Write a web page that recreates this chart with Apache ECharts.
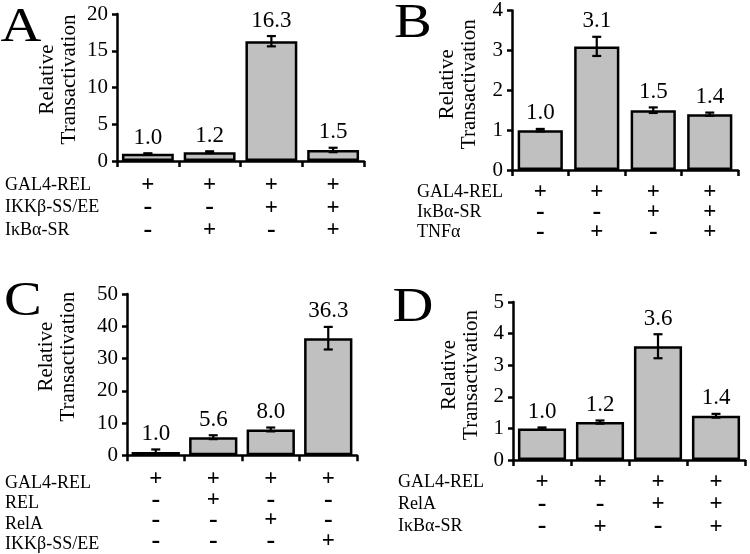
<!DOCTYPE html>
<html>
<head>
<meta charset="utf-8">
<script src="https://cdn.jsdelivr.net/npm/echarts@6/dist/echarts.min.js"></script>
<style>html,body{margin:0;padding:0;background:#fff}#c{width:750px;height:554px}</style>
</head>
<body>
<div id="c"></div>
<script>
// ---- Data ----
const panelLetters = ['A', 'B', 'C', 'D'];

const valuesA = [1.0, 1.2, 16.3, 1.5];
const errorsA = [0.05, 0.12, 0.7, 0.3];
const rowsA = ['GAL4-REL', 'IKKβ-SS/EE', 'IκBα-SR'];
const signsA = [['+', '+', '+', '+'], ['-', '-', '+', '+'], ['-', '+', '-', '+']];
const yTicksA = { max: 20, interval: 5 };

const valuesB = [1.0, 3.1, 1.5, 1.4];
const errorsB = [0.03, 0.24, 0.07, 0.04];
const rowsB = ['GAL4-REL', 'IκBα-SR', 'TNFα'];
const signsB = [['+', '+', '+', '+'], ['-', '-', '+', '+'], ['-', '+', '-', '+']];
const yTicksB = { max: 4, interval: 1 };

const valuesC = [1.0, 5.6, 8.0, 36.3];
const errorsC = [0.8, 0.6, 0.6, 3.5];
const rowsC = ['GAL4-REL', 'REL', 'RelA', 'IKKβ-SS/EE'];
const signsC = [['+', '+', '+', '+'], ['-', '+', '-', '-'], ['-', '-', '+', '-'], ['-', '-', '-', '+']];
const yTicksC = { max: 50, interval: 10 };

const valuesD = [1.0, 1.2, 3.6, 1.4];
const errorsD = [0.03, 0.05, 0.38, 0.06];
const rowsD = ['GAL4-REL', 'RelA', 'IκBα-SR'];
const signsD = [['+', '+', '+', '+'], ['-', '-', '+', '+'], ['-', '+', '-', '+']];
const yTicksD = { max: 5, interval: 1 };

const yAxisName = 'Relative\nTransactivation';

// ---- Layout (positions/styles only) ----
const FONT = '"Liberation Serif", "Times New Roman", serif';
const panels = [
  { letter: panelLetters[0], values: valuesA, errors: errorsA, rows: rowsA, signs: signsA, ticks: yTicksA,
    grid: { left: 117, top: 14, width: 247, height: 147 }, gap: '16%',
    nameGap: 37, nameShift: 8, labMargin: 13, lineH: 22.5, rowX: 5, letterPos: [21, 28] },
  { letter: panelLetters[1], values: valuesB, errors: errorsB, rows: rowsB, signs: signsB, ticks: yTicksB,
    grid: { left: 512, top: 9, width: 226, height: 161 }, gap: '20%',
    nameGap: 32, nameShift: 6, labMargin: 12.5, lineH: 20, rowX: 417, letterPos: [413, 24] },
  { letter: panelLetters[2], values: valuesC, errors: errorsC, rows: rowsC, signs: signsC, ticks: yTicksC,
    grid: { left: 127, top: 294, width: 230, height: 165 }, gap: '16%',
    nameGap: 48, nameShift: 18, labMargin: 14, lineH: 20.5, rowX: 5, letterPos: [23, 302] },
  { letter: panelLetters[3], values: valuesD, errors: errorsD, rows: rowsD, signs: signsD, ticks: yTicksD,
    grid: { left: 513, top: 302, width: 232, height: 158 }, gap: '17%',
    nameGap: 31, nameShift: 6, labMargin: 11, lineH: 22.3, rowX: 398, letterPos: [413, 308] }
];

const option = {
  backgroundColor: '#fff',
  animation: false,
  grid: [], xAxis: [], yAxis: [], series: [], graphic: []
};

panels.forEach((p, k) => {
  option.grid.push(Object.assign({ containLabel: false }, p.grid));
  const cats = p.values.map((_, i) => p.signs.map(r => r[i]).join('\n'));
  option.xAxis.push({
    type: 'category', gridIndex: k, data: cats, boundaryGap: true,
    axisLine: { show: true, lineStyle: { color: '#000', width: 2.5 } },
    axisTick: { show: true, alignWithLabel: false, length: 6, inside: false, lineStyle: { color: '#000', width: 2.5 } },
    axisLabel: {
      interval: 0, margin: p.labMargin, color: '#000',
      formatter: v => v.split('\n').map(s => s === '+' ? '{p|+}' : '{m|-}').join('\n'),
      rich: {
        p: { fontFamily: FONT, fontSize: 23, fontWeight: 'bold', lineHeight: p.lineH, color: '#000' },
        m: { fontFamily: FONT, fontSize: 26, fontWeight: 'bold', lineHeight: p.lineH, color: '#000' }
      }
    },
    splitLine: { show: false }
  });
  option.yAxis.push({
    type: 'value', gridIndex: k, min: 0, max: p.ticks.max, interval: p.ticks.interval,
    name: yAxisName, nameLocation: 'middle', nameGap: p.nameGap,
    nameTextStyle: { fontFamily: FONT, fontSize: 21, lineHeight: 22, color: '#000',
      padding: [0, 0, 0, 2 * p.nameShift] },
    axisLine: { show: true, lineStyle: { color: '#000', width: 2.5 } },
    axisTick: { show: true, length: 5, lineStyle: { color: '#000', width: 2.5 } },
    axisLabel: { fontFamily: FONT, fontSize: 21, color: '#000', margin: 9 },
    splitLine: { show: false }
  });
  option.series.push({
    type: 'bar', xAxisIndex: k, yAxisIndex: k, data: p.values,
    barCategoryGap: p.gap,
    itemStyle: { color: '#c0c0c0', borderColor: '#000', borderWidth: 2.5 },
    silent: true
  });
  option.series.push({
    type: 'custom', xAxisIndex: k, yAxisIndex: k,
    data: p.values.map((v, i) => [i, v, p.errors[i]]),
    encode: { x: 0, y: 1 },
    z: 10, silent: true,
    renderItem: (params, api) => {
      const i = api.value(0), v = api.value(1), e = api.value(2);
      const t = api.coord([i, v + e]);
      const b = api.coord([i, v - e]);
      const hw = 4.5;
      const ls = { stroke: '#000', lineWidth: 2.2 };
      return {
        type: 'group',
        children: [
          { type: 'line', shape: { x1: t[0], y1: t[1], x2: b[0], y2: b[1] }, style: ls },
          { type: 'line', shape: { x1: t[0] - hw, y1: t[1], x2: t[0] + hw, y2: t[1] }, style: ls },
          { type: 'line', shape: { x1: b[0] - hw, y1: b[1], x2: b[0] + hw, y2: b[1] }, style: ls },
          { type: 'text', x: t[0], y: t[1] - 15.5,
            style: { text: v.toFixed(1), font: '23px ' + FONT, fill: '#000', align: 'center', verticalAlign: 'middle' } }
        ]
      };
    }
  });
  // panel letter
  option.graphic.push({
    type: 'text', x: p.letterPos[0], y: p.letterPos[1], scaleX: 1.18,
    style: { text: p.letter, font: '48px ' + FONT, fill: '#000', align: 'center', verticalAlign: 'middle' }
  });
  // table row labels
  const axisY = p.grid.top + p.grid.height;
  p.rows.forEach((r, j) => {
    option.graphic.push({
      type: 'text', x: p.rowX, y: axisY + p.labMargin + p.lineH * (j + 0.5),
      style: { text: r, font: '18px ' + FONT, fill: '#000', align: 'left', verticalAlign: 'middle' }
    });
  });
});

const chart = echarts.init(document.getElementById('c'), null, { renderer: 'canvas' });
chart.setOption(option);
</script>
</body>
</html>
